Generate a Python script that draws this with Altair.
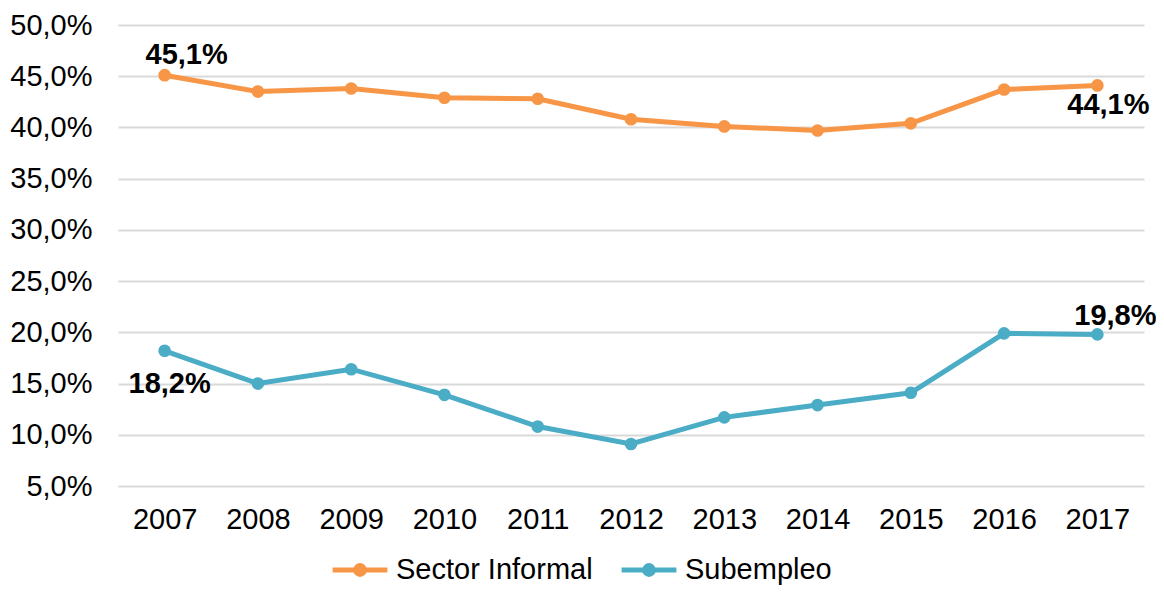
import altair as alt
import pandas as pd

years = ["2007", "2008", "2009", "2010", "2011", "2012", "2013", "2014", "2015", "2016", "2017"]
sector_informal = [45.1, 43.5, 43.8, 42.9, 42.8, 40.8, 40.1, 39.7, 40.4, 43.7, 44.1]
subempleo = [18.2, 15.0, 16.4, 13.9, 10.8, 9.1, 11.7, 12.9, 14.1, 19.9, 19.8]
series_names = ["Sector Informal", "Subempleo"]
colors = ["#F79646", "#4BACC6"]

rows = []
for name, vals in zip(series_names, [sector_informal, subempleo]):
    for y, v in zip(years, vals):
        rows.append({"year": y, "value": v, "serie": name})
df = pd.DataFrame(rows)

FONT = "Liberation Sans"
FS = 29

x = alt.X("year:O", sort=years, title=None,
          scale=alt.Scale(paddingInner=0, paddingOuter=0.5),
          axis=alt.Axis(labelAngle=0, ticks=False, domain=False, grid=False,
                        labelFontSize=FS, labelColor="#000000", labelFont=FONT,
                        labelPadding=19))
y = alt.Y("value:Q", title=None,
          scale=alt.Scale(domain=[5, 50], nice=False, zero=False),
          axis=alt.Axis(values=[5, 10, 15, 20, 25, 30, 35, 40, 45, 50],
                        labelExpr="replace(format(datum.value, '.1f'), '.', ',') + '%'",
                        ticks=False, domain=False, grid=True, gridColor="#D9D9D9",
                        gridWidth=2, labelFontSize=FS, labelColor="#000000",
                        labelFont=FONT, labelPadding=26))

symbol_path = ("M-1,0 L1,0 "
               "M-0.16,0 A0.16,0.16 0 1,0 0.16,0 A0.16,0.16 0 1,0 -0.16,0 "
               "M-0.06,0 A0.06,0.06 0 1,0 0.06,0 A0.06,0.06 0 1,0 -0.06,0")

color = alt.Color("serie:N", sort=series_names,
                  scale=alt.Scale(domain=series_names, range=colors),
                  legend=alt.Legend(title=None, orient="none", direction="horizontal",
                                    legendX=212, legendY=515,
                                    symbolType=symbol_path, symbolSize=3000,
                                    symbolStrokeWidth=5, labelFontSize=FS,
                                    labelFont=FONT, labelColor="#000000",
                                    labelLimit=400,
                                    columnPadding=18, labelOffset=6))

base = alt.Chart(df)
lines = base.mark_line(strokeWidth=5).encode(x=x, y=y, color=color)
points = base.mark_circle(size=160, opacity=1).encode(
    x=x, y=y,
    color=alt.Color("serie:N", scale=alt.Scale(domain=series_names, range=colors), legend=None))

label_specs = [
    ("Sector Informal", "2007", 22, -20),
    ("Sector Informal", "2017", 11, 20),
    ("Subempleo", "2007", 5, 33),
    ("Subempleo", "2017", 18, -18),
]
label_layers = []
for serie, yr, dx, dy in label_specs:
    label_layers.append(
        base.transform_filter((alt.datum.serie == serie) & (alt.datum.year == yr))
        .transform_calculate(lab="replace(format(datum.value, '.1f'), '.', ',') + '%'")
        .mark_text(fontSize=FS, fontWeight="bold", font=FONT, color="#000000",
                   dx=dx, dy=dy, baseline="middle", align="center")
        .encode(x=x, y=y, text="lab:N")
    )

chart = alt.layer(lines, points, *label_layers).properties(
    width=1026, height=461,
    autosize=alt.AutoSizeParams(type="none"),
    padding={"left": 110, "top": 17, "right": 12, "bottom": 100},
).configure(background="#FFFFFF").configure_view(stroke=None)

chart.save("out.html", embed_options={"renderer": "svg", "actions": False})
